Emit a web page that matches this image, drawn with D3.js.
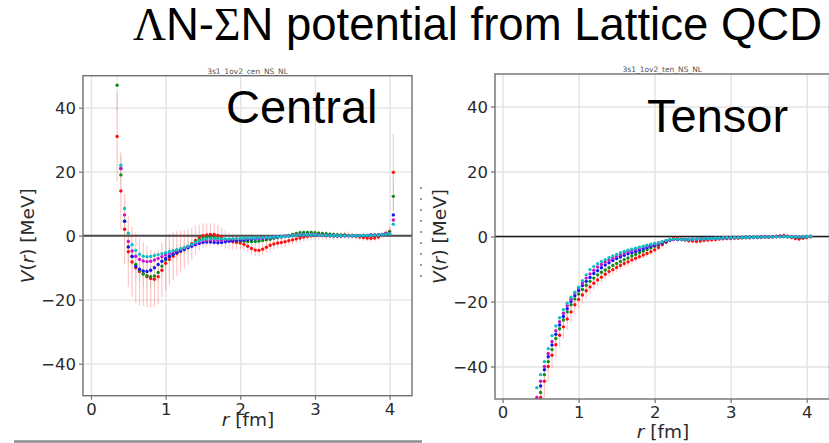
<!DOCTYPE html>
<html><head><meta charset="utf-8">
<script src="https://cdn.jsdelivr.net/npm/d3@7"></script>
<style>html,body{margin:0;padding:0;background:#fff;overflow:hidden}svg{display:block}</style>
</head><body>
<script>
// separation r [fm] shared by every series
const r = [
  0.35,0.40,0.45,0.50,0.55,0.60,0.65,0.70,0.75,0.80,
  0.85,0.90,0.95,1.00,1.05,1.10,1.15,1.20,1.25,1.30,
  1.35,1.40,1.45,1.50,1.55,1.60,1.65,1.70,1.75,1.80,
  1.85,1.90,1.95,2.00,2.05,2.10,2.15,2.20,2.25,2.30,
  2.35,2.40,2.45,2.50,2.55,2.60,2.65,2.70,2.75,2.80,
  2.85,2.90,2.95,3.00,3.05,3.10,3.15,3.20,3.25,3.30,
  3.35,3.40,3.45,3.50,3.55,3.60,3.65,3.70,3.75,3.80,
  3.85,3.90,3.95,4.00,4.05];

// central potential V_C(r) [MeV], one array per time slice
const cenRed = [
  31,14,2,-5.0,-8.2,-10.0,-11.2,-12.0,-12.8,-13.4,
  -13.6,-12.8,-10.8,-8.6,-7.4,-6.4,-5.6,-4.9,-4.3,-3.5,
  -2.5,-1.5,-0.6,0,0.2,0.4,0.4,0.1,-0.5,-1.2,
  -1.6,-1.9,-2.1,-2.3,-2.7,-3.3,-4.0,-4.5,-4.6,-4.2,
  -3.6,-3.0,-2.6,-2.3,-2.1,-1.9,-1.6,-1.3,-1.0,-0.7,
  -0.4,-0.2,0,0.1,0.1,0.1,0,0,-0.1,-0.1,
  0,0.2,0.1,0,-0.2,-0.4,-0.6,-0.7,-0.8,-0.7,
  -0.4,0.2,0.8,1.3,19.8];
const cenGreen = [
  47,19,4.5,-3.5,-6.5,-9.0,-10.8,-11.9,-12.5,-12.8,
  -12.6,-11.5,-9.5,-7.6,-6.6,-5.8,-5.1,-4.5,-4.0,-3.4,
  -2.7,-1.9,-1.2,-0.7,-0.5,-0.5,-0.6,-0.8,-1.0,-1.2,
  -1.3,-1.4,-1.5,-1.6,-1.7,-1.8,-1.8,-1.8,-1.7,-1.5,
  -1.3,-1.1,-0.8,-0.6,-0.4,-0.2,0.1,0.4,0.7,0.9,
  1.0,1.0,1.0,0.9,0.8,0.7,0.6,0.5,0.4,0.3,
  0.2,0.2,0.1,0.1,0,0,0,0,0.1,0.1,
  0.2,0.3,0.6,1.2,12.3];
const cenBlue = [
  55,21,4.5,-3.5,-6.5,-9.6,-10.5,-11.0,-11.2,-10.8,
  -10.0,-9.0,-8.0,-7.1,-6.4,-5.8,-5.2,-4.7,-4.3,-3.8,
  -3.3,-2.8,-2.4,-2.1,-2.0,-2.0,-2.1,-2.2,-2.1,-1.9,
  -1.7,-1.6,-1.5,-1.4,-1.3,-1.2,-1.1,-1.0,-0.9,-0.8,
  -0.7,-0.6,-0.5,-0.4,-0.3,-0.2,-0.1,0,0.1,0.2,
  0.3,0.3,0.3,0.2,0.2,0.1,0.1,0.1,0,0,
  0,0,0,0,0,0,0.1,0.1,0.2,0.2,
  0.3,0.4,0.5,0.8,6.5];
const cenMagenta = [
  53,21,6.5,-1.8,-4.8,-6.4,-7.4,-7.9,-8.1,-8.0,
  -7.6,-7.1,-6.6,-6.0,-5.5,-5.0,-4.6,-4.2,-3.8,-3.4,
  -2.9,-2.4,-1.9,-1.6,-1.4,-1.3,-1.3,-1.4,-1.4,-1.3,
  -1.2,-1.1,-1.0,-1.0,-0.9,-0.9,-0.8,-0.8,-0.7,-0.7,
  -0.6,-0.5,-0.4,-0.3,-0.2,-0.1,0,0.1,0.2,0.3,
  0.3,0.3,0.3,0.2,0.2,0.1,0.1,0,0,0,
  0,0,0,0,0,0,0.1,0.1,0.2,0.2,
  0.3,0.3,0.5,0.7,4.9];
const cenCyan = [
  52,22,8.5,0.8,-2.8,-4.6,-5.8,-6.4,-6.6,-6.5,
  -6.2,-5.9,-5.6,-5.3,-5.0,-4.7,-4.4,-4.1,-3.8,-3.3,
  -2.7,-2.1,-1.6,-1.2,-1.0,-0.9,-0.9,-1.0,-1.0,-1.0,
  -1.0,-0.9,-0.9,-0.8,-0.8,-0.7,-0.7,-0.7,-0.6,-0.6,
  -0.5,-0.5,-0.4,-0.3,-0.3,-0.2,-0.1,0,0.1,0.2,
  0.2,0.2,0.2,0.2,0.1,0.1,0.1,0,0,0,
  0,0,0,0,0,0,0.1,0.1,0.1,0.2,
  0.2,0.3,0.4,0.6,3.6];
// statistical errors of the central potential
const cenRedErr = [
  14,12,11,11,11,11,10.5,10,9.5,9,
  8.5,8.5,8.5,8.5,8,7.5,7,6.5,6,5.5,
  5,4.5,4,3.8,3.6,3.5,3.4,3.2,3,2.8,
  2.6,2.4,2.2,2,2,1.9,1.9,1.8,1.8,1.8,
  1.7,1.7,1.7,1.6,1.6,1.6,1.5,1.5,1.5,1.4,
  1.4,1.4,1.3,1.3,1.3,1.2,1.2,1.2,1.2,1.1,
  1.1,1.1,1.1,1.0,1.0,1.0,1.0,1.0,1.0,1.0,
  1.0,1.0,1.2,1.5,12];
const cenGreenErr = [
  8,6,5,5,4.5,4.5,4,4,3.8,3.6,
  3.4,3.2,3,2.8,2.6,2.4,2.2,2,1.9,1.8,
  1.7,1.6,1.5,1.4,1.3,1.2,1.2,1.1,1.1,1.0,
  1.0,1.0,1.0,1.0,1.0,1.0,1.0,1.0,1.0,1.0,
  0.9,0.9,0.9,0.9,0.9,0.9,0.9,0.9,0.9,0.9,
  0.8,0.8,0.8,0.8,0.8,0.8,0.8,0.8,0.8,0.8,
  0.7,0.7,0.7,0.7,0.7,0.7,0.7,0.7,0.7,0.7,
  0.7,0.7,0.8,1.0,6];

// tensor potential V_T(r) [MeV]
const tenRed = [
  null,null,-55,-49.5,-44.5,-40.0,-36.5,-33.3,-30.4,-27.8,
  -25.4,-23.2,-21.0,-19.4,-18.0,-16.7,-15.5,-14.4,-13.4,-12.5,
  -11.6,-10.8,-10.2,-9.5,-8.9,-8.3,-7.8,-7.2,-6.7,-6.2,
  -5.7,-5.2,-4.7,-4.1,-3.4,-2.5,-1.8,-1.1,-0.6,-0.5,
  -0.8,-1.1,-1.3,-1.4,-1.5,-1.4,-1.2,-1.1,-1.0,-0.9,
  -0.8,-0.7,-0.6,-0.6,-0.5,-0.5,-0.4,-0.4,-0.4,-0.3,
  -0.3,-0.3,-0.2,-0.2,-0.1,0,0.2,0.3,0.1,-0.3,
  -0.6,-0.8,-0.5,-0.3,0];
const tenGreen = [
  null,null,-53,-48,-42.5,-38.5,-34.8,-31.4,-28.4,-25.7,
  -23.2,-21.0,-19.2,-17.7,-16.3,-15.0,-13.8,-12.8,-11.8,-11.0,
  -10.3,-9.6,-8.9,-8.3,-7.7,-7.1,-6.6,-6.0,-5.5,-5.0,
  -4.5,-4.0,-3.5,-3.0,-2.5,-2.1,-1.6,-1.1,-0.8,-0.8,
  -0.9,-0.9,-0.9,-0.8,-0.8,-0.7,-0.7,-0.6,-0.6,-0.5,
  -0.5,-0.4,-0.4,-0.4,-0.3,-0.3,-0.3,-0.2,-0.2,-0.2,
  -0.2,-0.1,-0.1,-0.1,0,0,0.1,0.1,0,-0.1,
  -0.2,-0.3,-0.2,-0.1,0];
const tenBlue = [
  null,null,-51,-46,-41,-37,-33.4,-30.1,-27.2,-24.6,
  -22.2,-20.0,-18.2,-16.6,-15.1,-13.8,-12.6,-11.4,-10.5,-9.6,
  -8.8,-8.1,-7.4,-6.8,-6.3,-5.8,-5.3,-5.0,-4.6,-4.2,
  -3.8,-3.4,-3.0,-2.7,-2.3,-2.0,-1.5,-1.1,-0.9,-0.9,
  -0.9,-0.9,-0.9,-0.8,-0.8,-0.7,-0.7,-0.6,-0.6,-0.5,
  -0.5,-0.4,-0.4,-0.4,-0.3,-0.3,-0.3,-0.2,-0.2,-0.2,
  -0.2,-0.1,-0.1,-0.1,-0.1,0,0,0,-0.1,-0.1,
  -0.1,-0.2,-0.1,0,0];
const tenMagenta = [
  null,null,-49.5,-44.5,-40.0,-36.0,-32.3,-29.0,-26.2,-23.6,
  -21.3,-19.3,-17.4,-15.8,-14.3,-12.8,-11.5,-10.4,-9.4,-8.6,
  -7.9,-7.3,-6.7,-6.1,-5.6,-5.1,-4.7,-4.3,-3.9,-3.6,
  -3.2,-2.9,-2.6,-2.3,-2.0,-1.7,-1.3,-1.0,-0.9,-0.9,
  -0.9,-0.9,-0.9,-0.8,-0.8,-0.7,-0.7,-0.6,-0.6,-0.5,
  -0.5,-0.4,-0.4,-0.4,-0.3,-0.3,-0.3,-0.2,-0.2,-0.2,
  -0.2,-0.1,-0.1,-0.1,-0.1,0,0,0,0,-0.1,
  -0.1,-0.1,0,0,0.1];
const tenCyan = [
  null,null,-46.5,-42.5,-38.5,-34.5,-30.5,-27.5,-25.0,-22.5,
  -20.5,-18.7,-17.1,-15.6,-13.6,-11.8,-10.2,-9.2,-8.4,-7.7,
  -7.1,-6.5,-6.0,-5.5,-5.0,-4.6,-4.2,-3.9,-3.6,-3.3,
  -3.0,-2.7,-2.4,-2.1,-1.9,-1.6,-1.2,-0.9,-0.8,-0.8,
  -0.9,-0.9,-0.9,-0.8,-0.8,-0.7,-0.7,-0.6,-0.6,-0.5,
  -0.5,-0.4,-0.4,-0.4,-0.3,-0.3,-0.3,-0.3,-0.2,-0.2,
  -0.2,-0.2,-0.2,-0.1,-0.1,-0.1,-0.1,0,-0.1,-0.1,
  -0.1,-0.1,0,0,0.1];
const tenRedErr = [
  null,null,6,5.5,5,4.5,4.2,4,3.8,3.6,
  3.4,3.2,3,2.8,2.6,2.4,2.2,2,1.9,1.8,
  1.7,1.6,1.5,1.4,1.3,1.2,1.2,1.1,1.1,1.0,
  1.0,1.0,0.9,0.9,0.9,0.8,0.8,0.8,0.7,0.7,
  0.7,0.7,0.7,0.7,0.7,0.7,0.7,0.7,0.7,0.7,
  0.6,0.6,0.6,0.6,0.6,0.6,0.6,0.6,0.6,0.6,
  0.6,0.6,0.6,0.6,0.6,0.6,0.6,0.6,0.6,0.6,
  0.6,0.6,0.6,0.6,0.6];
const tenGreenErr = [
  null,null,4,3.5,3.2,3,2.8,2.6,2.4,2.2,
  2.1,2,1.9,1.8,1.7,1.6,1.5,1.4,1.3,1.2,
  1.1,1.0,1.0,0.9,0.9,0.9,0.8,0.8,0.8,0.7,
  0.6,0.6,0.6,0.6,0.6,0.6,0.6,0.6,0.6,0.6,
  0.5,0.5,0.5,0.5,0.5,0.5,0.5,0.5,0.5,0.5,
  0.5,0.5,0.5,0.5,0.5,0.5,0.5,0.5,0.5,0.5,
  0.4,0.4,0.4,0.4,0.4,0.4,0.4,0.4,0.4,0.4,
  0.4,0.4,0.4,0.4,0.4];

const seriesColors = ["#ff1010", "#138a1c", "#1414ff", "#c814c8", "#10c0c0"];
const xTicks = [0, 1, 2, 3, 4];
const yTicks = [-40, -20, 0, 20, 40];
const xTickLabels = ["0", "1", "2", "3", "4"];
const yTickLabels = ["\u221240", "\u221220", "0", "20", "40"];

const W = 829, H = 443;
const svg = d3.select("body").append("svg").attr("width", W).attr("height", H)
  .style("font-family", "'DejaVu Sans', sans-serif");

const panels = [
  { id: "cen", left: 83, right: 412, top: 75.7, bottom: 395.7, xDomain: [-0.107, 4.3],
    series: [cenRed, cenGreen, cenBlue, cenMagenta, cenCyan],
    errs: [[cenRedErr, 0], [cenGreenErr, 1]],
    zeroColor: "#4a4a4a", zeroWidth: 2,
    tag: "3s1_1ov2_cen_NS_NL", tagY: 73.5,
    name: "Central", nameX: 226, nameY: 123,
    yTickX: 76, xTickY: 414.5, xLabelX: 248, xLabelY: 426, yLabelX: 34 },
  { id: "ten", left: 495, right: 829.5, top: 74, bottom: 399, xDomain: [-0.1, 4.3],
    series: [tenRed, tenGreen, tenBlue, tenMagenta, tenCyan],
    errs: [[tenRedErr, 0], [tenGreenErr, 1]],
    zeroColor: "#1a1a1a", zeroWidth: 1.4,
    tag: "3s1_1ov2_ten_NS_NL", tagY: 71.5,
    name: "Tensor", nameX: 647, nameY: 131.5,
    yTickX: 488, xTickY: 418, xLabelX: 663, xLabelY: 437.5, yLabelX: 446 }
];

panels.forEach(p => {
  const x = d3.scaleLinear().domain(p.xDomain).range([p.left, p.right]);
  const y = d3.scaleLinear().domain([-50, 50]).range([p.bottom, p.top]);
  const g = svg.append("g");

  svg.append("clipPath").attr("id", "clip-" + p.id).append("rect")
    .attr("x", p.left).attr("y", p.top)
    .attr("width", p.right - p.left).attr("height", p.bottom - p.top);

  // grid lines
  const gx = g.append("g").attr("transform", `translate(0,${p.bottom})`)
    .call(d3.axisBottom(x).tickValues(xTicks).tickSize(-(p.bottom - p.top)).tickFormat(""));
  const gy = g.append("g").attr("transform", `translate(${p.left},0)`)
    .call(d3.axisLeft(y).tickValues(yTicks).tickSize(-(p.right - p.left)).tickFormat(""));
  [gx, gy].forEach(a => {
    a.select(".domain").remove();
    a.selectAll(".tick line").attr("stroke", "#e2e2e2").attr("stroke-width", 1.3);
  });

  // zero line
  g.append("line").attr("x1", p.left).attr("x2", p.right)
    .attr("y1", y(0)).attr("y2", y(0))
    .attr("stroke", p.zeroColor).attr("stroke-width", p.zeroWidth);

  // error bars and points
  const plot = g.append("g").attr("clip-path", `url(#clip-${p.id})`);
  p.errs.forEach(([err, si]) => {
    const vals = p.series[si];
    plot.append("g").selectAll("line")
      .data(r.map((rv, i) => ({ rv, v: vals[i], e: err[i] })).filter(d => d.v !== null))
      .join("line")
      .attr("x1", d => x(d.rv)).attr("x2", d => x(d.rv))
      .attr("y1", d => y(d.v - d.e)).attr("y2", d => y(d.v + d.e))
      .attr("stroke", seriesColors[si]).attr("stroke-opacity", si === 0 ? 0.24 : 0.12)
      .attr("stroke-width", 1.2);
  });
  p.series.forEach((vals, si) => {
    plot.append("g").selectAll("circle")
      .data(r.map((rv, i) => ({ rv, v: vals[i] })).filter(d => d.v !== null))
      .join("circle")
      .attr("cx", d => x(d.rv)).attr("cy", d => y(d.v))
      .attr("r", 1.7).attr("fill", seriesColors[si]);
  });

  // frame
  g.append("rect").attr("x", p.left).attr("y", p.top)
    .attr("width", p.right - p.left).attr("height", p.bottom - p.top)
    .attr("fill", "none").attr("stroke", "#707070").attr("stroke-width", 1.4);

  // axes with ticks and labels
  const ax = g.append("g").attr("transform", `translate(0,${p.bottom})`)
    .call(d3.axisBottom(x).tickValues(xTicks).tickSize(4).tickFormat((d, i) => xTickLabels[i]));
  const ay = g.append("g").attr("transform", `translate(${p.left},0)`)
    .call(d3.axisLeft(y).tickValues(yTicks).tickSize(4).tickFormat((d, i) => yTickLabels[i]));
  [ax, ay].forEach(a => {
    a.select(".domain").remove();
    a.selectAll(".tick line").attr("stroke", "#707070").attr("stroke-width", 1.2);
    a.selectAll(".tick text").attr("fill", "#2b2b2b")
      .style("font-size", "16.5px").style("font-family", "'DejaVu Sans', sans-serif");
  });
  ax.selectAll(".tick text").attr("y", null).attr("dy", null)
    .attr("transform", `translate(0,${p.xTickY - p.bottom})`);
  ay.selectAll(".tick text").attr("x", null).attr("dy", "0.36em")
    .attr("transform", `translate(${p.yTickX - p.left},0)`).attr("text-anchor", "end");

  // axis titles
  const xl = g.append("text").attr("x", p.xLabelX).attr("y", p.xLabelY)
    .attr("text-anchor", "middle").attr("fill", "#2b2b2b").style("font-size", "18.5px");
  xl.append("tspan").attr("font-style", "italic").text("r");
  xl.append("tspan").text(" [fm]");

  const yl = g.append("text")
    .attr("transform", `translate(${p.yLabelX},${(p.top + p.bottom) / 2}) rotate(-90)`)
    .attr("text-anchor", "middle").attr("fill", "#2b2b2b").style("font-size", "18.5px");
  yl.append("tspan").attr("font-style", "italic").text("V");
  yl.append("tspan").text("(");
  yl.append("tspan").attr("font-style", "italic").text("r");
  yl.append("tspan").text(") [MeV]");

  // small run tag above the frame
  g.append("text").attr("x", (p.left + Math.min(p.right, 829.5)) / 2).attr("y", p.tagY)
    .attr("text-anchor", "middle").attr("fill", "#555").style("font-size", "7.5px")
    .text(p.tag);

  // channel name
  g.append("text").attr("x", p.nameX).attr("y", p.nameY)
    .attr("fill", "#000").style("font-family", "'Liberation Sans', Arial, sans-serif")
    .style("font-size", "47px").text(p.name);
});

// stray label fragment between the panels
svg.append("line").attr("x1", 421).attr("x2", 421).attr("y1", 187).attr("y2", 282)
  .attr("stroke", "#555").attr("stroke-width", 1.2).attr("stroke-dasharray", "2,9");

// rule under the left panel
svg.append("line").attr("x1", 14).attr("x2", 422).attr("y1", 441.5).attr("y2", 441.5)
  .attr("stroke", "#8c8c8c").attr("stroke-width", 2.5);

// headline
const title = svg.append("text").attr("x", 822).attr("y", 40).attr("text-anchor", "end")
  .attr("fill", "#000").style("font-family", "'Liberation Sans', Arial, sans-serif")
  .style("font-size", "45.5px");
title.append("tspan").style("font-family", "'Liberation Serif', serif").text("\u039B");
title.append("tspan").text("N-");
title.append("tspan").style("font-family", "'Liberation Serif', serif").text("\u03A3");
title.append("tspan").text("N potential from Lattice QCD");
</script>
</body></html>
